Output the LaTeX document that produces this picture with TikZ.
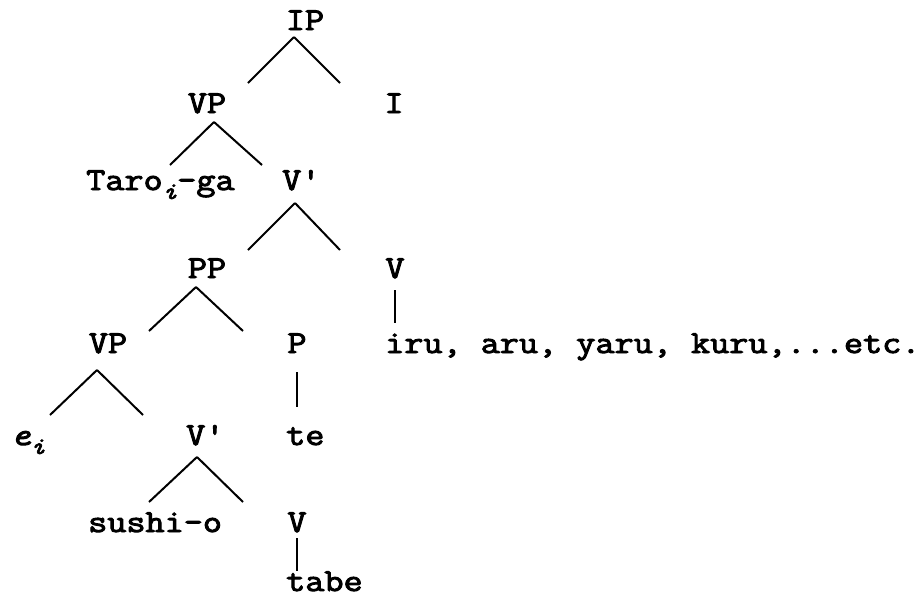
\documentclass[tikz,border=0pt]{standalone}
\usepackage{fontspec}
% slab typewriter face, widened and thickened
\newfontfamily\tw[FakeStretch=1.16,FakeBold=3]{Latin Modern Mono}
\begin{document}
\newcommand{\subi}{\raisebox{-0.28em}{\fontsize{24}{24}\selectfont\itshape i}}
\begin{tikzpicture}[x=1pt,y=-1pt,
  lab/.style={inner sep=0pt,font=\tw\fontsize{32}{38}\selectfont},
  branch/.style={line width=2pt}]
\useasboundingbox (0,0) rectangle (922,598);
% labels
\node[lab,anchor=base] (IP) at (305,30) {IP};
\node[lab,anchor=base] (VPa) at (207,113) {VP};
\node[lab,anchor=base] (I) at (394,113) {I};
\node[lab,anchor=base west] (taro) at (86,190) {Taro\subi-ga};
\node[lab,anchor=base west] (Vba) at (282,190) {V'};
\node[lab,anchor=base] (PP) at (207,278) {PP};
\node[lab,anchor=base] (Va) at (395,278) {V};
\node[lab,anchor=base] (VPb) at (108,353) {VP};
\node[lab,anchor=base] (P) at (297,353) {P};
\node[lab,anchor=base west] (iru) at (385,353) {iru, aru, yaru, kuru,...etc.};
\node[lab,anchor=base west] (ei) at (11,445) {\itshape e\subi};
\node[lab,anchor=base west] (Vbb) at (186,445) {V'};
\node[lab,anchor=base west] (te) at (286,445) {te};
\node[lab,anchor=base west] (sushi) at (88,532) {sushi-o};
\node[lab,anchor=base] (Vb) at (297,532) {V};
\node[lab,anchor=base west,text depth=0pt] (tabe) at (286,591) {tabe};
% branches
\draw[branch] ([shift={(-11,7)}]IP.base) -- ([shift={(41,-30)}]VPa.base);
\draw[branch] ([shift={(-11,7)}]IP.base) -- ([shift={(-54,-30)}]I.base);
\draw[branch] ([shift={(7,9)}]VPa.base) -- ([shift={(84,-25)}]taro.base west);
\draw[branch] ([shift={(7,9)}]VPa.base) -- ([shift={(-20,-25)}]Vba.base west);
\draw[branch] ([shift={(13,13)}]Vba.base west) -- ([shift={(41,-28)}]PP.base);
\draw[branch] ([shift={(13,13)}]Vba.base west) -- ([shift={(-55,-28)}]Va.base);
\draw[branch] ([shift={(0,12)}]Va.base) -- ([shift={(10,-30)}]iru.base west);
\draw[branch] ([shift={(-11,9)}]PP.base) -- ([shift={(41,-22)}]VPb.base);
\draw[branch] ([shift={(-11,9)}]PP.base) -- ([shift={(-54,-22)}]P.base);
\draw[branch] ([shift={(0,19)}]P.base) -- ([shift={(11,-38)}]te.base west);
\draw[branch] ([shift={(-11,17)}]VPb.base) -- ([shift={(39,-30)}]ei.base west);
\draw[branch] ([shift={(-11,17)}]VPb.base) -- ([shift={(-43,-30)}]Vbb.base west);
\draw[branch] ([shift={(11,12)}]Vbb.base west) -- ([shift={(61,-30)}]sushi.base west);
\draw[branch] ([shift={(11,12)}]Vbb.base west) -- ([shift={(-54,-30)}]Vb.base);
\draw[branch] ([shift={(0,6)}]Vb.base) -- ([shift={(11,-20)}]tabe.base west);
\end{tikzpicture}
\end{document}
